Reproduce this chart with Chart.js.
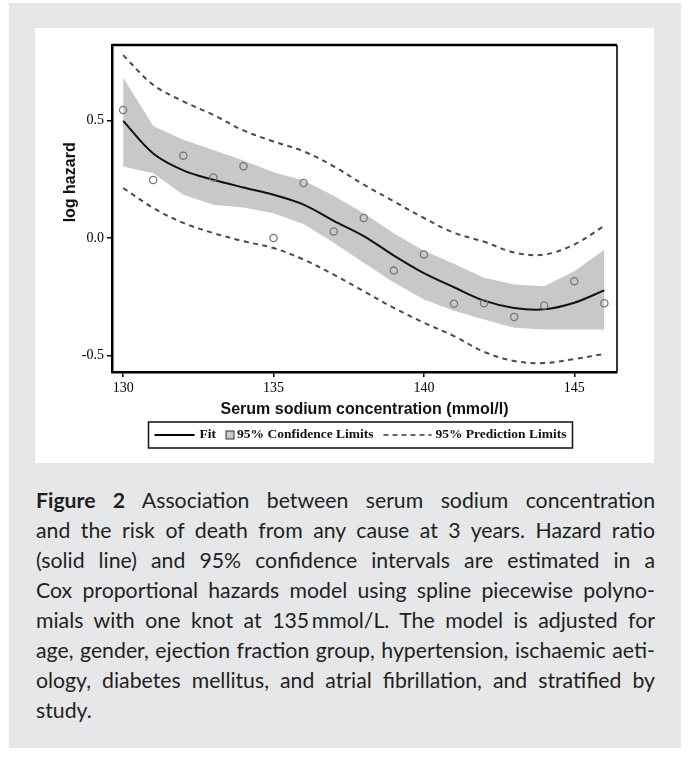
<!DOCTYPE html>
<html>
<head>
<meta charset="utf-8">
<script src="https://cdn.jsdelivr.net/npm/chart.js@4.4.1/dist/chart.umd.min.js"></script>
<style>
  html, body { margin: 0; padding: 0; background: #fff; }
  body { width: 691px; height: 759px; position: relative; overflow: hidden; }
  #bg { position: absolute; left: 9px; top: 3px; width: 672px; height: 745px; background: #e6e7e8; }
  #panel { position: absolute; left: 35px; top: 28px; width: 619px; height: 435px; background: #fff; }
  #caption {
    position: absolute; left: 36px; top: 485px; width: 619px;
    font-family: Lato, "Open Sans", sans-serif; font-size: 19.5px; line-height: 30px; color: #231f20;
  }
  #caption div { text-align: justify; text-align-last: justify; white-space: nowrap; }
  #caption div.last { text-align-last: left; }
  #caption b { font-weight: 700; }
</style>
</head>
<body>
<div id="bg"></div>
<div id="panel"><canvas id="chart" width="619" height="435"></canvas></div>
<div id="caption">
  <div><b>Figure 2</b> Association between serum sodium concentration</div>
  <div>and the risk of death from any cause at 3 years. Hazard ratio</div>
  <div>(solid line) and 95% confidence intervals are estimated in a</div>
  <div>Cox proportional hazards model using spline piecewise polyno-</div>
  <div>mials with one knot at 135&#8201;mmol/L. The model is adjusted for</div>
  <div>age, gender, ejection fraction group, hypertension, ischaemic aeti-</div>
  <div>ology, diabetes mellitus, and atrial fibrillation, and stratified by</div>
  <div class="last">study.</div>
</div>
<script>
// serum sodium (mmol/l)
const sodium = [130, 131, 132, 133, 134, 135, 136, 137, 138, 139, 140, 141, 142, 143, 144, 145, 146];
const observed = [0.545, 0.247, 0.35, 0.258, 0.306, 0.0, 0.234, 0.028, 0.085, -0.139, -0.07, -0.28, -0.278, -0.337, -0.288, -0.184, -0.278];
const fit = [0.499, 0.36, 0.288, 0.248, 0.215, 0.184, 0.142, 0.073, 0.008, -0.075, -0.15, -0.21, -0.267, -0.298, -0.304, -0.276, -0.223];
const confUpper = [0.684, 0.477, 0.418, 0.375, 0.33, 0.28, 0.245, 0.18, 0.105, 0.02, -0.055, -0.11, -0.17, -0.198, -0.206, -0.142, -0.05];
const confLower = [0.304, 0.276, 0.184, 0.142, 0.13, 0.105, 0.06, -0.02, -0.106, -0.19, -0.262, -0.31, -0.347, -0.383, -0.39, -0.39, -0.39];
const predUpper = [0.779, 0.652, 0.582, 0.524, 0.458, 0.411, 0.369, 0.305, 0.227, 0.156, 0.085, 0.022, -0.016, -0.062, -0.071, -0.028, 0.052];
const predLower = [0.213, 0.128, 0.064, 0.021, -0.014, -0.043, -0.092, -0.156, -0.227, -0.298, -0.361, -0.418, -0.485, -0.524, -0.533, -0.516, -0.494];
const xTicks = [130, 135, 140, 145];
const yTicks = [-0.5, 0.0, 0.5];

const pts = arr => sodium.map((x, i) => ({ x: x, y: arr[i] }));

const serif = 'Liberation Serif, "DejaVu Serif", serif';
const sans = 'Liberation Sans, Arial, sans-serif';

// grow the caption font until the widest line fills the column
(function fitCaption() {
  const cap = document.getElementById('caption');
  const lines = Array.from(cap.querySelectorAll('div'));
  let size = 18;
  const widest = () => Math.max(...lines.map(d => {
    const r = document.createRange();
    r.selectNodeContents(d);
    return r.getBoundingClientRect().width;
  }));
  lines.forEach(d => { d.style.textAlignLast = 'left'; d.style.textAlign = 'left'; });
  while (size < 26) {
    cap.style.fontSize = (size + 0.25) + 'px';
    if (widest() > 616) break;
    size += 0.25;
  }
  cap.style.fontSize = size + 'px';
  lines.forEach(d => { d.style.textAlignLast = ''; d.style.textAlign = ''; });
})();

const extras = {
  id: 'extras',
  afterDraw(chart) {
    const { ctx, chartArea: a } = chart;
    ctx.save();
    // top and right sides of the frame
    ctx.strokeStyle = '#000';
    ctx.lineWidth = 2.5;
    ctx.beginPath();
    ctx.moveTo(a.left, a.top);
    ctx.lineTo(a.right, a.top);
    ctx.stroke();
    ctx.lineWidth = 1.8;
    ctx.strokeStyle = '#222';
    ctx.beginPath();
    ctx.moveTo(a.right, a.top);
    ctx.lineTo(a.right, a.bottom);
    ctx.stroke();

    // y title
    ctx.save();
    ctx.translate(a.left - 41, a.top + (a.bottom - a.top) * 0.42);
    ctx.rotate(-Math.PI / 2);
    ctx.fillStyle = '#111';
    ctx.font = 'bold 16px ' + sans;
    ctx.textAlign = 'center';
    ctx.textBaseline = 'middle';
    ctx.fillText('log hazard', 0, 0);
    ctx.restore();

    // legend box
    ctx.font = 'bold 13.5px ' + serif;
    ctx.textBaseline = 'middle';
    ctx.textAlign = 'left';
    const labels = ['Fit', '95% Confidence Limits', '95% Prediction Limits'];
    const w = labels.map(t => ctx.measureText(t).width);
    const lineLen = 40, sq = 8, dashLen = 48, gap = 5, itemGap = 10;
    const inner = lineLen + gap + w[0] + itemGap + sq + 3 + w[1] + itemGap + dashLen + 4 + w[2];
    const boxW = inner + 12;
    const cx = (a.left + a.right) / 2 - 4;
    const bx = cx - boxW / 2, by = 394, bh = 26;
    ctx.lineWidth = 1.5;
    ctx.strokeStyle = '#111';
    ctx.strokeRect(bx, by, boxW, bh);
    const my = by + bh / 2;
    let x = bx + 6;
    ctx.lineWidth = 2;
    ctx.strokeStyle = '#000';
    ctx.beginPath(); ctx.moveTo(x, my); ctx.lineTo(x + lineLen, my); ctx.stroke();
    x += lineLen + gap;
    ctx.fillStyle = '#111';
    ctx.fillText(labels[0], x, my);
    x += w[0] + itemGap;
    ctx.fillStyle = '#c8c8c8';
    ctx.fillRect(x, my - sq / 2, sq, sq);
    ctx.lineWidth = 1;
    ctx.strokeStyle = '#333';
    ctx.strokeRect(x, my - sq / 2, sq, sq);
    x += sq + 3;
    ctx.fillStyle = '#111';
    ctx.fillText(labels[1], x, my);
    x += w[1] + itemGap;
    ctx.lineWidth = 1.5;
    ctx.strokeStyle = '#333';
    ctx.setLineDash([5, 4]);
    ctx.beginPath(); ctx.moveTo(x, my); ctx.lineTo(x + dashLen, my); ctx.stroke();
    ctx.setLineDash([]);
    x += dashLen + 4;
    ctx.fillText(labels[2], x, my);
    ctx.restore();
  }
};

new Chart(document.getElementById('chart'), {
  type: 'line',
  data: {
    datasets: [
      {
        label: 'confLower',
        data: pts(confLower),
        borderWidth: 0,
        pointRadius: 0,
        tension: 0,
        fill: false,
        order: 5
      },
      {
        label: '95% Confidence Limits',
        data: pts(confUpper),
        borderWidth: 0,
        pointRadius: 0,
        tension: 0,
        backgroundColor: '#c8c8c8',
        fill: '-1',
        order: 4
      },
      {
        label: 'Fit',
        data: pts(fit),
        borderColor: '#111',
        borderWidth: 2,
        pointRadius: 0,
        tension: 0.35,
        fill: false,
        order: 2
      },
      {
        label: '95% Prediction Limits',
        data: pts(predUpper),
        borderColor: '#4a4a4a',
        borderWidth: 2,
        borderDash: [5, 4.5],
        pointRadius: 0,
        tension: 0.35,
        fill: false,
        order: 3
      },
      {
        label: 'predLower',
        data: pts(predLower),
        borderColor: '#4a4a4a',
        borderWidth: 2,
        borderDash: [5, 4.5],
        pointRadius: 0,
        tension: 0.35,
        fill: false,
        order: 3
      },
      {
        label: 'observed',
        data: pts(observed),
        showLine: false,
        pointRadius: 3.6,
        pointBorderWidth: 1.3,
        pointBorderColor: '#777',
        pointBackgroundColor: 'rgba(255,255,255,0)',
        order: 1
      }
    ]
  },
  options: {
    responsive: false,
    animation: false,
    layout: { padding: { top: 17, right: 37, left: 0, bottom: 0 } },
    plugins: {
      legend: { display: false },
      tooltip: { enabled: false }
    },
    scales: {
      x: {
        type: 'linear',
        min: 129.63,
        max: 146.42,
        afterBuildTicks: s => { s.ticks = xTicks.map(v => ({ value: v })); },
        afterFit: s => { s.height = 91; },
        grid: { drawOnChartArea: false, drawTicks: true, tickLength: 5, color: '#000', lineWidth: 1.5 },
        border: { display: true, color: '#000', width: 2.5 },
        ticks: {
          padding: 3,
          color: '#000',
          font: { family: serif, size: 14 },
          maxRotation: 0,
          callback: v => String(v)
        },
        title: {
          display: true,
          text: 'Serum sodium concentration (mmol/l)',
          color: '#111',
          font: { family: sans, size: 16, weight: 'bold' },
          padding: { top: 0, bottom: 43.5 }
        }
      },
      y: {
        min: -0.571,
        max: 0.822,
        afterBuildTicks: s => { s.ticks = yTicks.map(v => ({ value: v })); },
        afterFit: s => { s.width = 77; },
        grid: { drawOnChartArea: false, drawTicks: true, tickLength: 5, color: '#000', lineWidth: 1.5 },
        border: { display: true, color: '#000', width: 2.5 },
        ticks: {
          padding: 3,
          color: '#000',
          font: { family: serif, size: 14 },
          callback: v => v.toFixed(1)
        }
      }
    }
  },
  plugins: [extras]
});
</script>
</body>
</html>
